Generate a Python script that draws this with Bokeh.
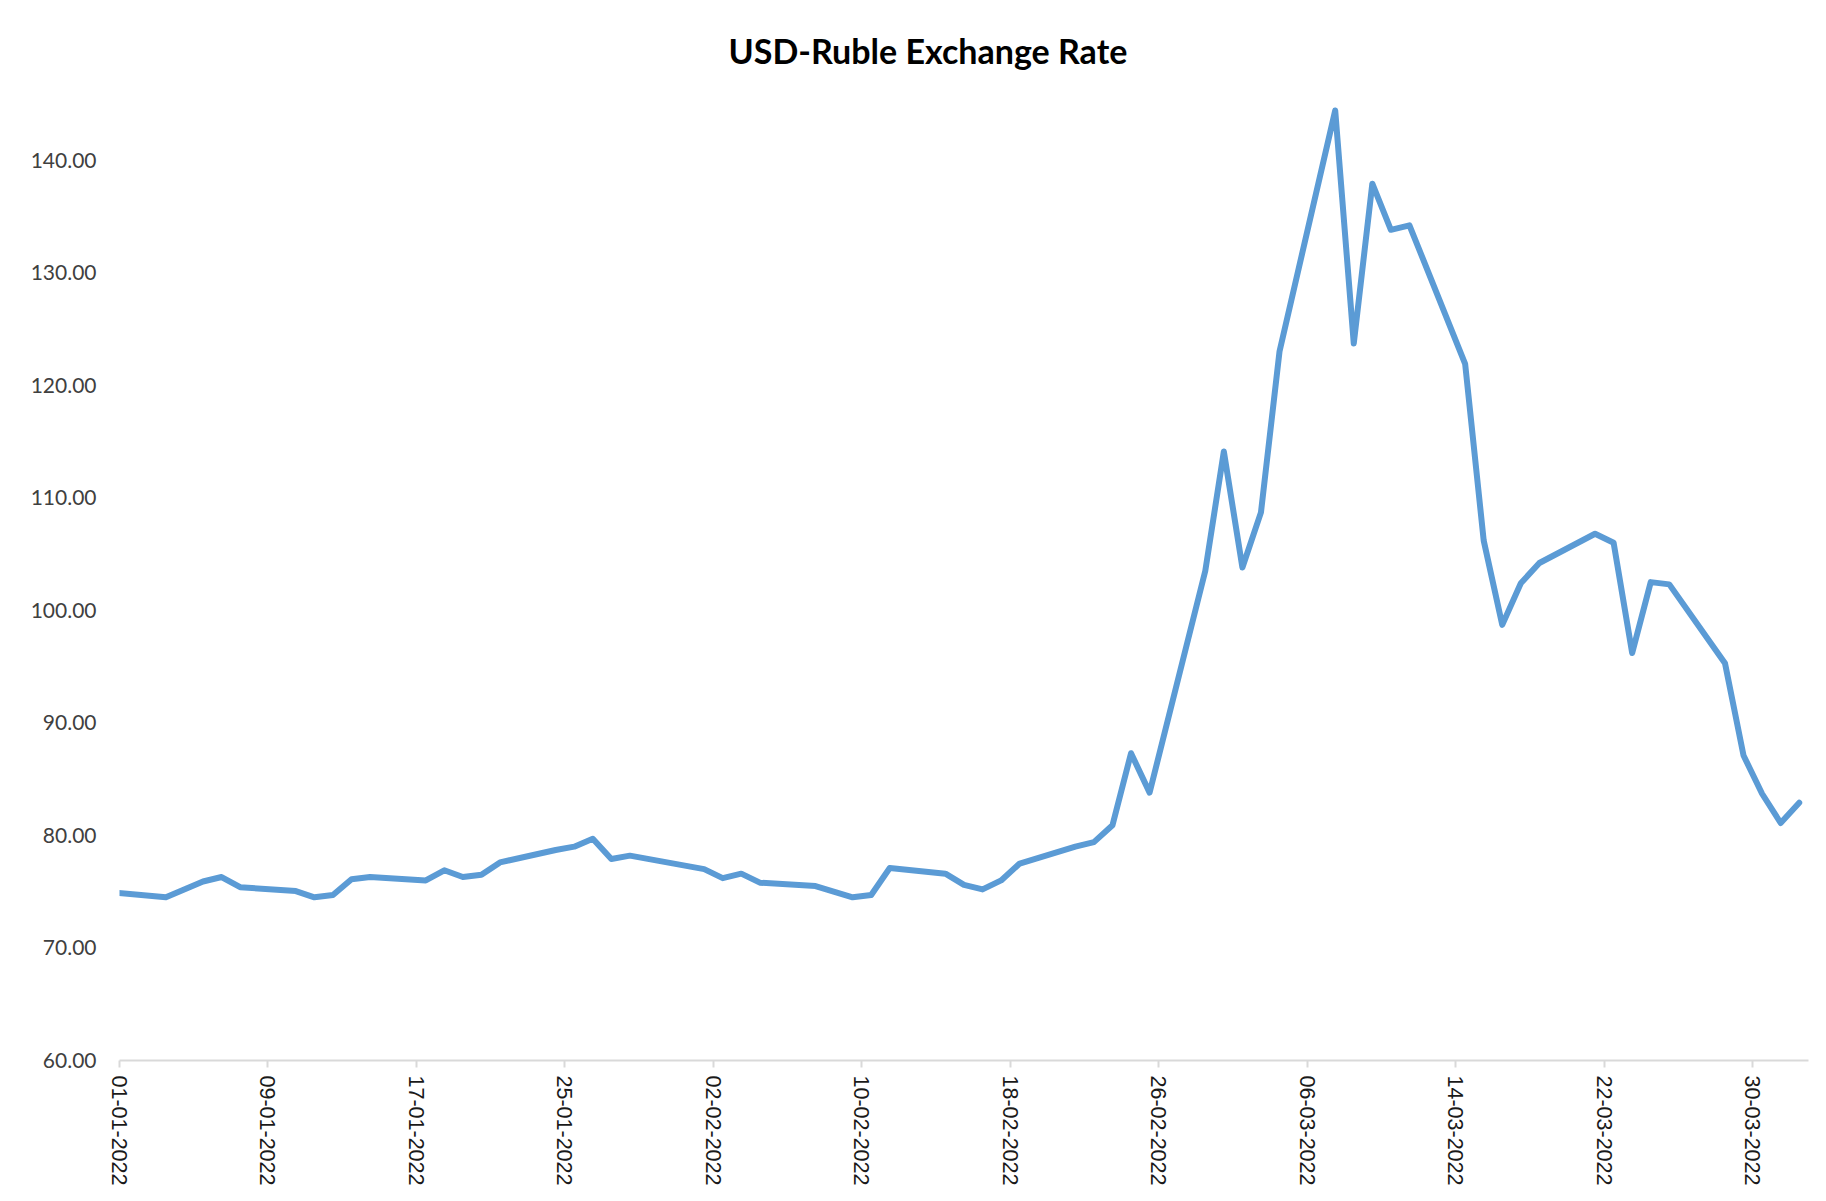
from datetime import datetime, timedelta

from bokeh.plotting import figure
from bokeh.models import (FixedTicker, DatetimeTickFormatter, NumeralTickFormatter,
                          Range1d, ColumnDataSource)
from bokeh.embed import file_html
from bokeh.resources import INLINE

# ---------------- data ----------------
dates = ["31-12-2021", "03-01-2022", "05-01-2022", "06-01-2022", "07-01-2022",
         "10-01-2022", "11-01-2022", "12-01-2022", "13-01-2022", "14-01-2022",
         "17-01-2022", "18-01-2022", "19-01-2022", "20-01-2022", "21-01-2022",
         "24-01-2022", "25-01-2022", "26-01-2022", "27-01-2022", "28-01-2022",
         "01-02-2022", "02-02-2022", "03-02-2022", "04-02-2022", "07-02-2022",
         "09-02-2022", "10-02-2022", "11-02-2022", "14-02-2022", "15-02-2022",
         "16-02-2022", "17-02-2022", "18-02-2022", "21-02-2022", "22-02-2022",
         "23-02-2022", "24-02-2022", "25-02-2022", "28-02-2022", "01-03-2022",
         "02-03-2022", "03-03-2022", "04-03-2022", "07-03-2022", "08-03-2022",
         "09-03-2022", "10-03-2022", "11-03-2022", "14-03-2022", "15-03-2022",
         "16-03-2022", "17-03-2022", "18-03-2022", "21-03-2022", "22-03-2022",
         "23-03-2022", "24-03-2022", "25-03-2022", "28-03-2022", "29-03-2022",
         "30-03-2022", "31-03-2022", "01-04-2022"]

rates = [74.95, 74.5, 75.9, 76.3, 75.4,
         75.05, 74.5, 74.7, 76.1, 76.3,
         76.0, 76.9, 76.3, 76.5, 77.6,
         78.7, 79.0, 79.7, 77.9, 78.2,
         77.0, 76.2, 76.6, 75.8, 75.5,
         74.5, 74.7, 77.1, 76.6, 75.6,
         75.2, 76.0, 77.5, 79.0, 79.4,
         80.9, 87.3, 83.8, 103.5, 114.1,
         103.8, 108.7, 123.0, 144.4, 123.7,
         137.9, 133.8, 134.2, 121.9, 106.2,
         98.7, 102.4, 104.2, 106.8, 106.0,
         96.2, 102.5, 102.3, 95.3, 87.1,
         83.7, 81.1, 82.9]

x_tick_labels = ["01-01-2022", "09-01-2022", "17-01-2022", "25-01-2022",
                 "02-02-2022", "10-02-2022", "18-02-2022", "26-02-2022",
                 "06-03-2022", "14-03-2022", "22-03-2022", "30-03-2022"]

y_ticks = [60, 70, 80, 90, 100, 110, 120, 130, 140]

title_text = "USD-Ruble Exchange Rate"

# ---------------- build ----------------
FMT = "%d-%m-%Y"


def parse(s):
    return datetime.strptime(s, FMT)


EPOCH = datetime(1970, 1, 1)

# Excel date axis: each point sits in the middle of its day
x_vals = [parse(d) + timedelta(hours=12) for d in dates]
src = ColumnDataSource(data=dict(x=x_vals, y=rates))

x_start = parse(x_tick_labels[0])
x_end = parse(dates[-1]) + timedelta(days=1)

p = figure(width=1816, height=1188, x_axis_type="datetime",
           output_backend="svg", toolbar_location=None,
           x_range=Range1d(x_start, x_end), y_range=Range1d(60, 146),
           min_border_left=119, min_border_right=8,
           min_border_top=92, min_border_bottom=127)

p.background_fill_color = "white"
p.border_fill_color = "white"
p.outline_line_color = None
p.xgrid.grid_line_color = None
p.ygrid.grid_line_color = None

p.line("x", "y", source=src, line_color="#5B9BD5", line_width=6,
       line_join="round", line_cap="round")

# title
p.title.text = title_text
p.title.text_font = "Lato"
p.title.text_font_style = "bold"
p.title.text_font_size = "34px"
p.title.text_color = "#000000"
p.title.align = "left"
p.title.offset = 609
p.title.standoff = 44

# x axis
xa = p.xaxis[0]
xa.ticker = FixedTicker(ticks=[(parse(t) - EPOCH).total_seconds() * 1000 for t in x_tick_labels])
xa.formatter = DatetimeTickFormatter(
    milliseconds=FMT, seconds=FMT, minsec=FMT, minutes=FMT, hourmin=FMT,
    hours=FMT, days=FMT, months=FMT, years=FMT)
xa.major_label_orientation = "vertical"
xa.major_label_text_font = "Liberation Sans"
xa.major_label_text_font_size = "21.5px"
xa.major_label_text_color = "#1a1a1a"
xa.axis_line_color = "#D9D9D9"
xa.axis_line_width = 2
xa.major_tick_line_color = "#D9D9D9"
xa.major_tick_line_width = 2
xa.major_tick_in = 0
xa.major_tick_out = 7
xa.minor_tick_line_color = None
xa.major_label_standoff = 8

# y axis
ya = p.yaxis[0]
ya.ticker = FixedTicker(ticks=y_ticks)
ya.formatter = NumeralTickFormatter(format="0.00")
ya.axis_line_color = None
ya.major_tick_line_color = None
ya.minor_tick_line_color = None
ya.major_label_text_font = "Lato"
ya.major_label_text_font_size = "21px"
ya.major_label_text_color = "#404040"
ya.major_label_standoff = 17

open("out.html", "w").write(file_html(p, INLINE))
